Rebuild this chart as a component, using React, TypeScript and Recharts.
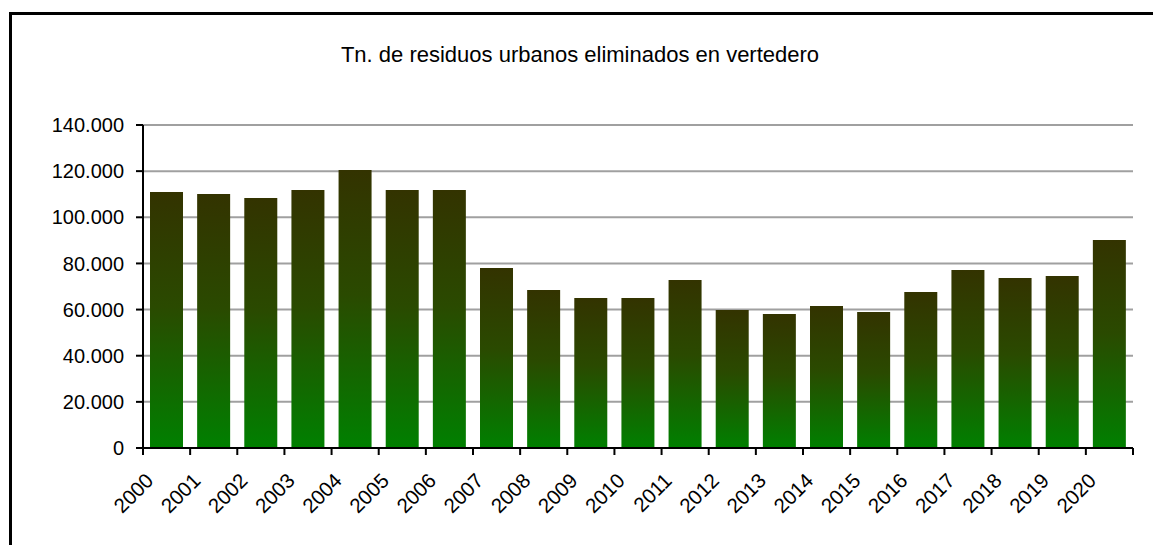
import React from "react";
import { BarChart, Bar, XAxis, YAxis, CartesianGrid } from "recharts";

const years = ["2000","2001","2002","2003","2004","2005","2006","2007","2008","2009","2010","2011","2012","2013","2014","2015","2016","2017","2018","2019","2020"];
const tonnes = [111000,110100,108400,111800,120500,111800,111800,78000,68500,65000,65000,72800,59800,58100,61600,59000,67600,77200,73700,74600,90200];
const yTicks = [0,20000,40000,60000,80000,100000,120000,140000];
const title = "Tn. de residuos urbanos eliminados en vertedero";

const data = years.map((y, i) => ({ year: y, value: tonnes[i] }));

const FONT = '"Liberation Sans", Arial, sans-serif';
const W = 1153;
const H = 545;
const PLOT_LEFT = 143;
const PLOT_RIGHT = 1133;
const BAND = (PLOT_RIGHT - PLOT_LEFT) / years.length;

const fmt = (v: number) => String(v).replace(/\B(?=(\d{3})+(?!\d))/g, ".");

const XTick = (props: any) => {
  const { x, y, payload, index } = props;
  const axisY = y - 7;
  const left = x - BAND / 2;
  const right = x + BAND / 2;
  const ax = x - 12;
  const ay = axisY + 34;
  return (
    <g>
      <line x1={left} y1={axisY} x2={left} y2={axisY + 7} stroke="#000" strokeWidth={2} />
      {index === years.length - 1 && (
        <line x1={right} y1={axisY} x2={right} y2={axisY + 7} stroke="#000" strokeWidth={2} />
      )}
      <text
        x={ax}
        y={ay}
        textAnchor="end"
        transform={`rotate(-45 ${ax} ${ay})`}
        fontSize={20.5}
        fontFamily={FONT}
        fill="#000"
      >
        {payload.value}
      </text>
    </g>
  );
};

export default function App() {
  return (
    <div style={{ position: "absolute", left: 0, top: 0, width: W, height: H, overflow: "hidden", background: "#fff" }}>
      <div
        style={{
          position: "absolute",
          left: 9,
          top: 12,
          width: 1300,
          height: 700,
          borderLeft: "3px solid #000",
          borderTop: "3px solid #000",
        }}
      />
      <svg style={{ position: "absolute", left: 0, top: 0 }} width={W} height={H}>
        <text x={580} y={62} textAnchor="middle" fontSize={22} fontFamily={FONT} fill="#000">
          {title}
        </text>
      </svg>
      <div style={{ position: "absolute", left: 0, top: 0 }}>
        <BarChart
          width={W}
          height={H}
          data={data}
          margin={{ top: 125, right: W - PLOT_RIGHT, left: 0, bottom: 37 }}
        >
          <defs>
            <linearGradient id="barGrad" x1="0" y1="0" x2="0" y2="1">
              <stop offset="0%" stopColor="#333300" />
              <stop offset="45%" stopColor="#2a4a00" />
              <stop offset="100%" stopColor="#008000" />
            </linearGradient>
          </defs>
          <CartesianGrid vertical={false} stroke="#a0a0a0" strokeWidth={2} />
          <XAxis
            dataKey="year"
            height={60}
            interval={0}
            tickSize={7}
            tickMargin={0}
            tickLine={false}
            axisLine={{ stroke: "#000", strokeWidth: 2 }}
            tick={<XTick />}
          />
          <YAxis
            width={PLOT_LEFT}
            domain={[0, 140000]}
            ticks={yTicks}
            interval={0}
            tickSize={7}
            tickMargin={12}
            tickFormatter={fmt}
            axisLine={{ stroke: "#000", strokeWidth: 2 }}
            tickLine={{ stroke: "#000", strokeWidth: 2 }}
            tick={{ fill: "#000", fontSize: 20, fontFamily: FONT }}
          />
          <YAxis
            yAxisId="r"
            orientation="right"
            width={0}
            domain={[0, 140000]}
            tick={false}
            tickLine={false}
            axisLine={{ stroke: "#a0a0a0", strokeWidth: 2 }}
          />
          <Bar dataKey="value" fill="url(#barGrad)" barSize={33} isAnimationActive={false} />
        </BarChart>
      </div>
    </div>
  );
}
